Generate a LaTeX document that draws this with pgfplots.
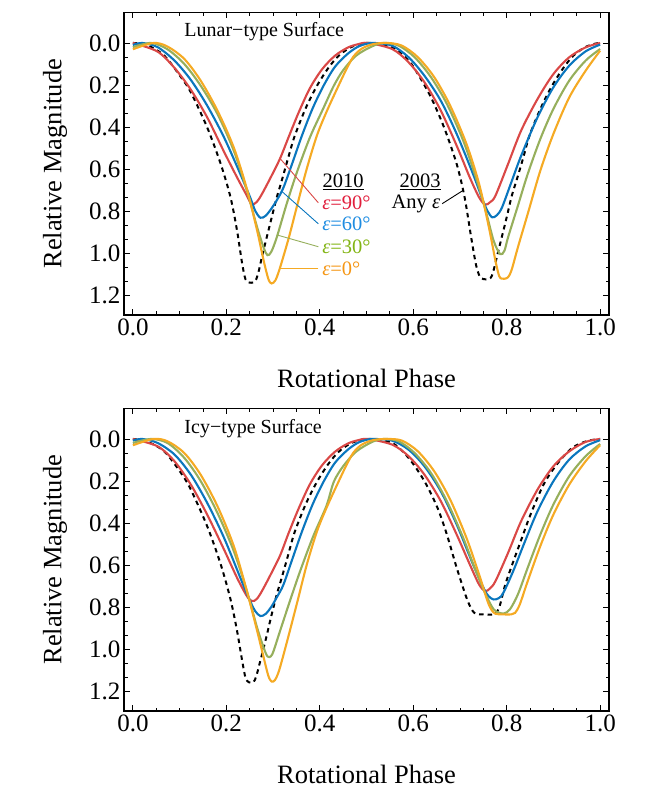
\documentclass[border=0pt]{standalone}
\usepackage{fontspec}
\setmainfont{Liberation Serif}
\usepackage{pgfplots}
\pgfplotsset{compat=1.18}
\definecolor{cR}{RGB}{218,72,70}
\definecolor{cB}{RGB}{10,118,190}
\definecolor{cG}{RGB}{150,175,92}
\definecolor{cO}{RGB}{245,170,35}
\definecolor{lR}{RGB}{225,30,60}
\definecolor{lB}{RGB}{30,140,225}
\definecolor{lG}{RGB}{130,180,20}
\definecolor{lO}{RGB}{245,150,20}
\pgfplotsset{myax/.style={
  width=485pt, height=302.5pt, scale only axis,
  xmin=-0.019, xmax=1.019, ymin=-0.145, ymax=1.295, y dir=reverse,
  xtick={0,0.2,0.4,0.6,0.8,1.0}, ytick={0,0.2,0.4,0.6,0.8,1.0,1.2},
  minor x tick num=3, minor y tick num=2,
  tick align=inside, xtick pos=both, ytick pos=both,
  xticklabel pos=lower, yticklabel pos=left,
  major tick length=6pt, minor tick length=3.5pt,
  axis line style={line width=1.3pt},
  every tick/.style={black, line width=0.9pt},
  tick label style={font=\fontsize{25}{30}\selectfont},
  /pgf/number format/fixed, /pgf/number format/fixed zerofill,
  /pgf/number format/precision=1, /pgf/number format/assume math mode=true,
  xlabel style={font=\fontsize{26.5}{32}\selectfont, at={(axis description cs:0.5,0)}, anchor=center, yshift=-63pt},
  ylabel style={font=\fontsize{26.5}{32}\selectfont, at={(axis description cs:0,0.5)}, anchor=center, yshift=69pt},
  xlabel={Rotational Phase}, ylabel={Relative Magnitude},
  clip=false,
  every axis plot/.append style={line width=2.1pt, smooth},
}}
\begin{document}
\begin{tikzpicture}
\useasboundingbox (0,0) rectangle (664pt,795pt);
% ---------------- TOP: Lunar ----------------
\begin{axis}[myax, at={(124pt,480pt)}, anchor=south west]
\addplot[black, line width=2pt, dash pattern=on 4.5pt off 4pt] coordinates {
(0,0) (0.03,0.01) (0.067,0.06) (0.103,0.163) (0.124,0.235) (0.159,0.402) (0.188,0.576) (0.209,0.735) (0.223,0.894) (0.234,1.052) (0.241,1.125) (0.248,1.14) (0.258,1.14) (0.264,1.125) (0.27,1.08) (0.277,1.01) (0.286,0.93) (0.296,0.84) (0.308,0.735) (0.318,0.66) (0.332,0.55) (0.346,0.445) (0.37,0.31) (0.394,0.204) (0.418,0.12) (0.44,0.062) (0.465,0.022) (0.49,0.004) (0.51,0)
(0.555,0.02) (0.59,0.084) (0.61,0.148) (0.638,0.259) (0.666,0.402) (0.693,0.576) (0.71,0.735) (0.724,0.925) (0.734,1.052) (0.742,1.11) (0.75,1.124) (0.762,1.124) (0.768,1.11) (0.774,1.065) (0.781,1.0) (0.79,0.92) (0.8,0.83) (0.811,0.727) (0.821,0.655) (0.835,0.55) (0.849,0.44) (0.873,0.31) (0.897,0.204) (0.921,0.12) (0.943,0.06) (0.968,0.02) (0.99,0.003) (1.0,0)};
\addplot[cR] coordinates {
(0,0) (0.052,0.04) (0.088,0.116) (0.123,0.219) (0.159,0.354) (0.194,0.513) (0.223,0.640) (0.244,0.727) (0.254,0.768) (0.265,0.757) (0.276,0.72) (0.295,0.64) (0.315,0.55) (0.333,0.45) (0.355,0.33) (0.379,0.215) (0.405,0.125) (0.433,0.06) (0.46,0.022) (0.482,0.006) (0.503,0)
(0.555,0.029) (0.59,0.092) (0.624,0.187) (0.659,0.322) (0.693,0.489) (0.721,0.64) (0.741,0.735) (0.754,0.77) (0.765,0.757) (0.776,0.727) (0.803,0.576) (0.831,0.417) (0.866,0.267) (0.9,0.148) (0.934,0.068) (0.969,0.021) (1.0,0)};
\addplot[cB] coordinates {
(0,0.01) (0.02,0) (0.053,0.02) (0.089,0.084) (0.124,0.176) (0.159,0.298) (0.195,0.449) (0.23,0.624) (0.251,0.735) (0.262,0.8) (0.273,0.832) (0.284,0.823) (0.296,0.79) (0.309,0.745) (0.322,0.69) (0.34,0.58) (0.362,0.44) (0.385,0.31) (0.408,0.204) (0.432,0.115) (0.458,0.055) (0.48,0.02) (0.5,0.004) (0.517,0)
(0.555,0.013) (0.59,0.068) (0.624,0.156) (0.659,0.275) (0.693,0.433) (0.728,0.624) (0.748,0.743) (0.759,0.8) (0.769,0.83) (0.779,0.82) (0.79,0.783) (0.81,0.663) (0.831,0.537) (0.866,0.354) (0.9,0.211) (0.934,0.108) (0.969,0.04) (1.0,0.008)};
\addplot[cG] coordinates {
(0,0.02) (0.039,0) (0.074,0.03) (0.11,0.1) (0.145,0.203) (0.181,0.338) (0.216,0.513) (0.244,0.703) (0.266,0.878) (0.28,0.975) (0.288,1.01) (0.296,0.995) (0.308,0.925) (0.329,0.767) (0.351,0.616) (0.379,0.449) (0.407,0.314) (0.43,0.204) (0.45,0.13) (0.478,0.06) (0.513,0.015) (0.538,0)
(0.569,0.013) (0.603,0.068) (0.638,0.163) (0.672,0.29) (0.707,0.465) (0.734,0.64) (0.755,0.798) (0.772,0.941) (0.786,1.005) (0.795,0.99) (0.803,0.925) (0.824,0.775) (0.845,0.624) (0.872,0.457) (0.9,0.314) (0.934,0.179) (0.969,0.084) (1.0,0.029)};
\addplot[cO] coordinates {
(0,0.03) (0.044,0) (0.074,0.017) (0.11,0.076) (0.145,0.179) (0.181,0.322) (0.216,0.498) (0.244,0.695) (0.266,0.894) (0.28,1.037) (0.29,1.124) (0.297,1.145) (0.305,1.13) (0.312,1.09) (0.319,1.04) (0.334,0.925) (0.352,0.77) (0.372,0.6) (0.394,0.44) (0.415,0.325) (0.44,0.204) (0.457,0.125) (0.472,0.065) (0.49,0.027) (0.515,0.005) (0.545,0)
(0.576,0.013) (0.61,0.068) (0.645,0.163) (0.679,0.298) (0.714,0.481) (0.741,0.671) (0.762,0.878) (0.776,1.037) (0.784,1.11) (0.79,1.122) (0.8,1.12) (0.806,1.105) (0.812,1.07) (0.824,0.973) (0.845,0.814) (0.872,0.608) (0.9,0.433) (0.934,0.259) (0.969,0.132) (1.0,0.037)};
\node[anchor=west, inner sep=0, font=\fontsize{20}{24}\selectfont] at (axis cs:0.11,-0.055) {Lunar−type Surface};
\node[inner sep=0, font=\fontsize{20.5}{24}\selectfont] at (axis cs:0.45,0.66) {\underline{2010}};
\node[anchor=west, inner sep=0, text=lR, font=\fontsize{20.5}{24}\selectfont] at (axis cs:0.405,0.761) {\textit{ε}=90°};
\node[anchor=west, inner sep=0, text=lB, font=\fontsize{20.5}{24}\selectfont] at (axis cs:0.405,0.861) {\textit{ε}=60°};
\node[anchor=west, inner sep=0, text=lG, font=\fontsize{20.5}{24}\selectfont] at (axis cs:0.405,0.970) {\textit{ε}=30°};
\node[anchor=west, inner sep=0, text=lO, font=\fontsize{20.5}{24}\selectfont] at (axis cs:0.405,1.075) {\textit{ε}=0°};
\node[inner sep=0, font=\fontsize{20.5}{24}\selectfont] at (axis cs:0.615,0.66) {\underline{2003}};
\node[anchor=east, inner sep=0, font=\fontsize{20.5}{24}\selectfont] at (axis cs:0.658,0.765) {Any \textit{ε}};
\draw[cR, line width=0.9pt] (axis cs:0.397,0.761) -- (axis cs:0.315,0.55);
\draw[cB, line width=0.9pt] (axis cs:0.397,0.861) -- (axis cs:0.318,0.705);
\draw[cG, line width=0.9pt] (axis cs:0.397,0.970) -- (axis cs:0.31,0.915);
\draw[cO, line width=0.9pt] (axis cs:0.397,1.075) -- (axis cs:0.314,1.075);
\draw[black, line width=0.9pt] (axis cs:0.662,0.765) -- (axis cs:0.706,0.703);
\end{axis}
% ---------------- BOTTOM: Icy ----------------
\begin{axis}[myax, at={(124pt,84pt)}, anchor=south west]
\addplot[black, line width=2pt, dash pattern=on 4.5pt off 4pt] coordinates {
(0,0) (0.03,0.012) (0.067,0.059) (0.103,0.162) (0.124,0.241) (0.159,0.415) (0.188,0.597) (0.209,0.764) (0.223,0.914) (0.234,1.057) (0.241,1.136) (0.248,1.158) (0.258,1.158) (0.264,1.13) (0.27,1.08) (0.277,1.02) (0.286,0.94) (0.296,0.845) (0.308,0.74) (0.318,0.665) (0.332,0.555) (0.346,0.445) (0.37,0.31) (0.394,0.204) (0.418,0.12) (0.44,0.062) (0.465,0.022) (0.49,0.004) (0.51,0)
(0.555,0.019) (0.59,0.09) (0.624,0.201) (0.652,0.328) (0.672,0.455) (0.693,0.613) (0.714,0.756) (0.726,0.815) (0.735,0.833) (0.75,0.835) (0.772,0.835) (0.78,0.82) (0.786,0.788) (0.797,0.693) (0.812,0.597) (0.83,0.487) (0.851,0.36) (0.879,0.217) (0.907,0.122) (0.94,0.043) (0.972,0.01) (1.0,0)};
\addplot[cR] coordinates {
(0,0) (0.053,0.035) (0.089,0.106) (0.124,0.217) (0.159,0.36) (0.195,0.526) (0.223,0.661) (0.244,0.748) (0.255,0.772) (0.265,0.762) (0.276,0.725) (0.295,0.645) (0.315,0.555) (0.333,0.45) (0.355,0.33) (0.379,0.215) (0.405,0.125) (0.433,0.06) (0.46,0.022) (0.482,0.006) (0.503,0)
(0.555,0.027) (0.59,0.082) (0.624,0.17) (0.659,0.296) (0.693,0.455) (0.721,0.597) (0.741,0.693) (0.754,0.724) (0.764,0.712) (0.776,0.677) (0.803,0.542) (0.831,0.391) (0.866,0.241) (0.9,0.13) (0.934,0.059) (0.969,0.014) (1.0,0)};
\addplot[cB] coordinates {
(0,0.008) (0.02,0) (0.053,0.019) (0.089,0.074) (0.124,0.17) (0.159,0.304) (0.195,0.47) (0.23,0.661) (0.251,0.772) (0.262,0.82) (0.273,0.843) (0.284,0.833) (0.296,0.8) (0.309,0.75) (0.322,0.695) (0.34,0.58) (0.362,0.44) (0.385,0.31) (0.408,0.204) (0.432,0.115) (0.458,0.055) (0.48,0.02) (0.5,0.004) (0.517,0)
(0.555,0.008) (0.59,0.051) (0.624,0.13) (0.659,0.249) (0.693,0.407) (0.728,0.597) (0.752,0.716) (0.762,0.75) (0.772,0.764) (0.783,0.758) (0.793,0.732) (0.814,0.629) (0.838,0.494) (0.866,0.344) (0.9,0.201) (0.934,0.098) (0.969,0.035) (1.0,0.006)};
\addplot[cG] coordinates {
(0,0.019) (0.039,0) (0.074,0.019) (0.11,0.09) (0.145,0.2) (0.181,0.352) (0.216,0.534) (0.244,0.724) (0.266,0.899) (0.28,0.994) (0.288,1.035) (0.295,1.035) (0.301,1.01) (0.315,0.914) (0.336,0.772) (0.358,0.629) (0.386,0.463) (0.414,0.32) (0.43,0.204) (0.45,0.13) (0.478,0.06) (0.513,0.013) (0.538,0)
(0.569,0.011) (0.603,0.067) (0.638,0.162) (0.672,0.296) (0.707,0.471) (0.734,0.629) (0.755,0.74) (0.772,0.811) (0.785,0.828) (0.795,0.83) (0.807,0.811) (0.824,0.74) (0.845,0.613) (0.872,0.455) (0.9,0.312) (0.934,0.177) (0.969,0.082) (1.0,0.024)};
\addplot[cO] coordinates {
(0,0.03) (0.044,0) (0.074,0.011) (0.11,0.067) (0.145,0.17) (0.181,0.32) (0.216,0.51) (0.244,0.724) (0.266,0.914) (0.28,1.041) (0.29,1.128) (0.297,1.155) (0.304,1.148) (0.311,1.115) (0.319,1.055) (0.334,0.93) (0.352,0.775) (0.372,0.6) (0.394,0.44) (0.415,0.325) (0.44,0.204) (0.457,0.125) (0.472,0.065) (0.49,0.027) (0.515,0.005) (0.545,0)
(0.576,0.008) (0.61,0.059) (0.645,0.154) (0.679,0.288) (0.714,0.471) (0.741,0.645) (0.759,0.772) (0.768,0.815) (0.776,0.832) (0.79,0.835) (0.81,0.835) (0.818,0.828) (0.828,0.788) (0.845,0.677) (0.872,0.51) (0.9,0.36) (0.934,0.217) (0.969,0.106) (1.0,0.03)};
\node[anchor=west, inner sep=0, font=\fontsize{20}{24}\selectfont] at (axis cs:0.11,-0.05) {Icy−type Surface};
\end{axis}
\end{tikzpicture}
\end{document}
